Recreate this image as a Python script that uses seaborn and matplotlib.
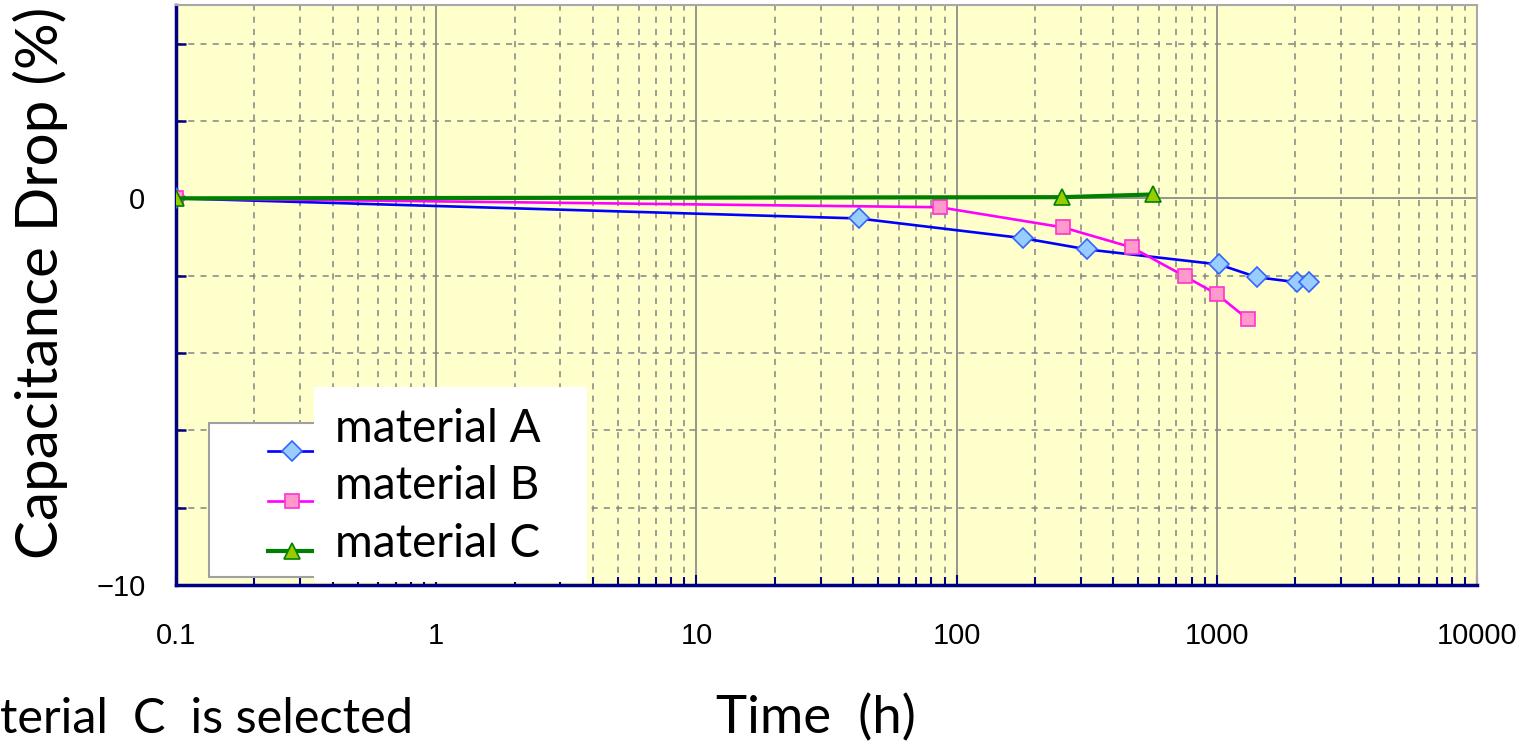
import numpy as np
import pandas as pd
import matplotlib
matplotlib.use("Agg")
import matplotlib.pyplot as plt
from matplotlib.lines import Line2D
from matplotlib.patches import Rectangle
from matplotlib.ticker import LogLocator, NullFormatter
import seaborn as sns

# data
time_a = [0.1, 42, 180, 317, 1019, 1427, 2034, 2262]
drop_a = [0.0, -0.52, -1.03, -1.32, -1.71, -2.04, -2.17, -2.17]
time_b = [0.1, 86, 256, 472, 755, 1002, 1318]
drop_b = [0.0, -0.23, -0.75, -1.27, -2.02, -2.48, -3.13]
time_c = [0.1, 254, 568]
drop_c = [0.0, 0.03, 0.10]

series_names = ["material A", "material B", "material C"]
x_ticks = [0.1, 1, 10, 100, 1000, 10000]
x_tick_labels = ["0.1", "1", "10", "100", "1000", "10000"]
y_ticks = [-10, -8, -6, -4, -2, 0, 2, 4]
y_tick_labels = ["\u221210", "", "", "", "", "0", "", ""]

W, H = 1534, 752
def fx(px):
    return px / W
def fy(py):
    return 1 - py / H

big_font = ["Lato", "DejaVu Sans"]
tick_font = ["Liberation Sans", "DejaVu Sans"]

fig = plt.figure(figsize=(15.34, 7.52), dpi=100)
ax = fig.add_axes([fx(176), fy(585), fx(1477 - 176), (585 - 5) / H])
ax.set_facecolor("#FFFFCC")

styles = [
    dict(color="#0000FF", marker="D", markerfacecolor="#99CCFF", markeredgecolor="#3366FF", ms=10, lw=1.9),
    dict(color="#FF00FF", marker="s", markerfacecolor="#FF99CC", markeredgecolor="#FF33CC", ms=10, lw=1.9),
    dict(color="#008000", marker="^", markerfacecolor="#99CC00", markeredgecolor="#008000", ms=11, lw=3.0),
]
data = [(time_a, drop_a), (time_b, drop_b), (time_c, drop_c)]
for (t, d), name, st in zip(data, series_names, styles):
    df = pd.DataFrame({"time": t, "drop": d})
    sns.lineplot(data=df, x="time", y="drop", ax=ax, legend=False, sort=False,
                 markeredgewidth=1.2, zorder=3, **st)

ax.set_xscale("log")
ax.set_xlim(0.1, 10000)
ax.set_ylim(-10, 5)
ax.set_xlabel("")
ax.set_ylabel("")

ax.set_xticks(x_ticks)
ax.set_xticklabels(x_tick_labels, fontsize=21, family=tick_font)
ax.xaxis.set_minor_locator(LogLocator(base=10, subs=np.arange(2, 10)))
ax.xaxis.set_minor_formatter(NullFormatter())
ax.set_yticks(y_ticks)
ax.set_yticklabels(y_tick_labels, fontsize=21, family=tick_font)

ax.tick_params(axis="y", direction="in", length=7, width=1.8, color="#000080", pad=22)
ax.tick_params(axis="x", which="major", direction="in", length=7, width=1.5, color="#000080", pad=27)
ax.tick_params(axis="x", which="minor", direction="in", length=6, width=1.5, color="#000080")

ax.grid(which="major", axis="x", color="#848484", lw=1.2, ls="-")
ax.grid(which="minor", axis="x", color="#848484", lw=1.1, ls=(0, (4, 4)))
ax.grid(which="major", axis="y", color="#848484", lw=1.1, ls=(0, (4, 4)))
for val, gl in zip(y_ticks, ax.get_ygridlines()):
    if val == 0:
        gl.set_linestyle("-")
        gl.set_linewidth(1.2)
ax.set_axisbelow(True)

for side in ["left", "bottom"]:
    ax.spines[side].set_color("#000080")
    ax.spines[side].set_linewidth(2.5)
for side in ["top", "right"]:
    ax.spines[side].set_color("#A8A8A8")
    ax.spines[side].set_linewidth(1.5)

# legend box (handles) with a white text box laid over it
fig.add_artist(Rectangle((fx(209), fy(577)), fx(560 - 209), (577 - 423) / H,
                         transform=fig.transFigure, facecolor="white",
                         edgecolor="#A0A0A0", lw=1.5, zorder=5))
for yy, st in zip([451, 501, 551], styles):
    fig.add_artist(Line2D([fx(268), fx(292), fx(330)], [fy(yy)] * 3,
                          transform=fig.transFigure, markevery=[1],
                          markeredgewidth=1.2, zorder=6, **st))
fig.add_artist(Rectangle((fx(314), fy(582)), fx(587 - 314), (582 - 387) / H,
                         transform=fig.transFigure, facecolor="white",
                         edgecolor="none", zorder=7))
for yy, name in zip([442, 499, 557], series_names):
    fig.text(fx(335), fy(yy), name, fontsize=33, family=big_font,
             va="baseline", ha="left", zorder=8)

fig.text(fx(40), fy(283), "Capacitance Drop (%)", rotation=90, fontsize=42,
         family=big_font, ha="center", va="center")
fig.text(fx(816), fy(733), "Time  (h)", fontsize=38, family=big_font,
         ha="center", va="baseline")
fig.text(fx(0), fy(733), "terial  C  is selected", fontsize=35, family=big_font,
         ha="left", va="baseline")

fig.savefig("out.png", dpi=100)
